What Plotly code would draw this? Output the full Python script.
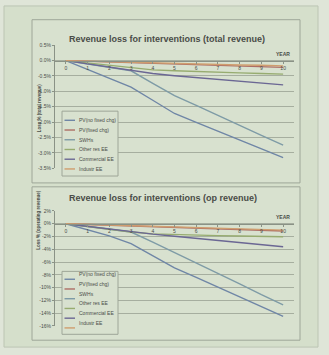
import plotly.graph_objects as go

# ---- data -------------------------------------------------------------
years = list(range(11))

series_names = ["PV(no fixed chg)", "PV(fixed chg)", "SWHs",
                "Other res EE", "Commercial EE", "Industr EE"]
series_colors = ["#6f86a6", "#ad6e66", "#7e9ba6", "#97ac70", "#6b6794", "#cf9d6e"]

# loss as % of total revenue
pv_nofix_total = [0, -0.28, -0.57, -0.86, -1.29, -1.72, -2.01, -2.30, -2.58, -2.87, -3.16]
pv_fix_total = [0, -0.02, -0.04, -0.07, -0.09, -0.11, -0.13, -0.15, -0.18, -0.20, -0.22]
swh_total = [0, -0.11, -0.22, -0.33, -0.74, -1.14, -1.46, -1.79, -2.11, -2.43, -2.75]
other_res_total = [0, -0.08, -0.16, -0.24, -0.30, -0.33, -0.36, -0.38, -0.40, -0.42, -0.44]
commercial_total = [0, -0.11, -0.22, -0.33, -0.42, -0.49, -0.55, -0.61, -0.67, -0.73, -0.79]
industr_total = [0, -0.02, -0.03, -0.05, -0.07, -0.09, -0.10, -0.12, -0.14, -0.15, -0.17]

# loss as % of operating revenue
pv_nofix_op = [0, -0.95, -1.9, -3.1, -5.0, -6.9, -8.4, -9.9, -11.4, -12.9, -14.5]
pv_fix_op = [0, -0.12, -0.23, -0.35, -0.46, -0.58, -0.69, -0.81, -0.92, -1.04, -1.15]
swh_op = [0, -0.43, -0.87, -1.3, -2.9, -4.5, -6.2, -7.8, -9.4, -11.1, -12.7]
other_res_op = [0, -0.45, -0.9, -1.3, -1.6, -1.72, -1.8, -1.87, -1.93, -1.99, -2.05]
commercial_op = [0, -0.43, -0.87, -1.3, -1.63, -1.96, -2.29, -2.62, -2.95, -3.28, -3.6]
industr_op = [0, -0.1, -0.2, -0.3, -0.4, -0.5, -0.6, -0.7, -0.8, -0.9, -1.0]

total_ticks = [0.5, 0.0, -0.5, -1.0, -1.5, -2.0, -2.5, -3.0, -3.5]
total_ticktext = ["0.5%", "0.0%", "-0.5%", "-1.0%", "-1.5%", "-2.0%", "-2.5%", "-3.0%", "-3.5%"]
op_ticks = [2, 0, -2, -4, -6, -8, -10, -12, -14, -16]
op_ticktext = ["2%", "0%", "-2%", "-4%", "-6%", "-8%", "-10%", "-12%", "-14%", "-16%"]

title_total = "Revenue loss for interventions (total revenue)"
title_op = "Revenue loss for interventions (op revenue)"
ytitle_total = "Loss % (total revenue)"
ytitle_op = "Loss % (operating revenue)"

# ---- page geometry (pixels) ------------------------------------------
W, H = 329, 355
FONT = "Liberation Sans Narrow, Arial Narrow, Liberation Sans, sans-serif"
TXT = "#4a4d48"
GRID = "#a6ae9f"
BOX = "#9ea698"


def px(x):
    return x / W


def py(y):
    return 1 - y / H


fig = go.Figure()

total_sets = [pv_nofix_total, pv_fix_total, swh_total, other_res_total, commercial_total, industr_total]
op_sets = [pv_nofix_op, pv_fix_op, swh_op, other_res_op, commercial_op, industr_op]

for name, color, vals in zip(series_names, series_colors, total_sets):
    fig.add_trace(go.Scatter(x=years, y=vals, name=name, mode="lines",
                             line=dict(color=color, width=1.4),
                             xaxis="x", yaxis="y", showlegend=False))
for name, color, vals in zip(series_names, series_colors, op_sets):
    fig.add_trace(go.Scatter(x=years, y=vals, name=name, mode="lines",
                             line=dict(color=color, width=1.4),
                             xaxis="x2", yaxis="y2", showlegend=False))

plot_x = [px(55), px(294)]
top_dom = [py(168), py(43)]
bot_dom = [py(328.5), py(211.5)]
top_rng = [-3.5, 0.5]
bot_rng = [-16, 2]


def zero_pos(dom, rng):
    return dom[0] + (0 - rng[0]) / (rng[1] - rng[0]) * (dom[1] - dom[0])


xcommon = dict(range=[-0.5, 10.5], tickvals=years, ticktext=[str(v) for v in years],
               showgrid=False, zeroline=False, showline=True, linecolor="#8a9286",
               linewidth=1, ticks="outside", ticklen=2, tickcolor="#8a9286",
               tickfont=dict(size=5, color=TXT, family=FONT), domain=plot_x,
               anchor="free", fixedrange=True)
ycommon = dict(showgrid=True, gridcolor=GRID, gridwidth=1, zeroline=False,
               showline=True, linecolor="#8a9286", linewidth=1, ticks="outside",
               ticklen=2, tickcolor="#8a9286",
               tickfont=dict(size=5, color=TXT, family=FONT), fixedrange=True)

fig.update_layout(
    width=W, height=H, margin=dict(l=0, r=0, t=0, b=0),
    paper_bgcolor="#dfe5d8", plot_bgcolor="rgba(0,0,0,0)",
    showlegend=False,
    xaxis=dict(xcommon, position=zero_pos(top_dom, top_rng)),
    xaxis2=dict(xcommon, position=zero_pos(bot_dom, bot_rng)),
    yaxis=dict(ycommon, domain=top_dom, range=top_rng, tickvals=total_ticks,
               ticktext=total_ticktext, anchor="x"),
    yaxis2=dict(ycommon, domain=bot_dom, range=bot_rng, tickvals=op_ticks,
                ticktext=op_ticktext, anchor="x2"),
)

shapes = [
    # card
    dict(type="rect", xref="paper", yref="paper", x0=px(4), x1=px(318), y0=py(350), y1=py(3),
         fillcolor="#d5dfcb", line=dict(color="#bcc5b3", width=1), layer="below"),
    # chart frames
    dict(type="rect", xref="paper", yref="paper", x0=px(32), x1=px(300), y0=py(183), y1=py(17),
         fillcolor="#d8e1cf", line=dict(color=BOX, width=1), layer="below"),
    dict(type="rect", xref="paper", yref="paper", x0=px(32), x1=px(300), y0=py(343), y1=py(187),
         fillcolor="#d8e1cf", line=dict(color=BOX, width=1), layer="below"),
]

annotations = [
    dict(text=f"<b>{title_total}</b>", x=px(167), y=py(29), xref="paper", yref="paper",
         showarrow=False, font=dict(size=9, color="#4a4c48", family=FONT)),
    dict(text=f"<b>{title_op}</b>", x=px(163), y=py(198), xref="paper", yref="paper",
         showarrow=False, font=dict(size=9, color="#4a4c48", family=FONT)),
    dict(text=f"<b>{ytitle_total}</b>", x=px(34.5), y=py(80), xref="paper", yref="paper",
         showarrow=False, textangle=-90, font=dict(size=4.5, color=TXT, family=FONT)),
    dict(text=f"<b>{ytitle_op}</b>", x=px(34.5), y=py(253), xref="paper", yref="paper",
         showarrow=False, textangle=-90, font=dict(size=4.5, color=TXT, family=FONT)),
    dict(text="<b>YEAR</b>", x=10, y=0, xref="x", yref="y", yanchor="bottom",
         yshift=2, showarrow=False, font=dict(size=5, color=TXT, family=FONT)),
    dict(text="<b>YEAR</b>", x=10, y=0, xref="x2", yref="y2", yanchor="bottom",
         yshift=2, showarrow=False, font=dict(size=5, color=TXT, family=FONT)),
]

# legend boxes, one per chart
for box_top, box_bot, first in [(110, 176, 119.3), (273, 337, 281)]:
    shapes.append(dict(type="rect", xref="paper", yref="paper", x0=px(62), x1=px(118),
                       y0=py(box_bot), y1=py(box_top), fillcolor="#d8e1cf",
                       line=dict(color=BOX, width=1)))
    for i, (name, color) in enumerate(zip(series_names, series_colors)):
        yy = first + i * 9.9
        shapes.append(dict(type="line", xref="paper", yref="paper", x0=px(64.5), x1=px(75),
                           y0=py(yy), y1=py(yy), line=dict(color=color, width=1.4)))
        annotations.append(dict(text=name, x=px(76.5), y=py(yy), xref="paper", yref="paper",
                                xanchor="left", showarrow=False,
                                font=dict(size=5, color=TXT, family=FONT)))

fig.update_layout(shapes=shapes, annotations=annotations)
fig.write_html("out.html")
